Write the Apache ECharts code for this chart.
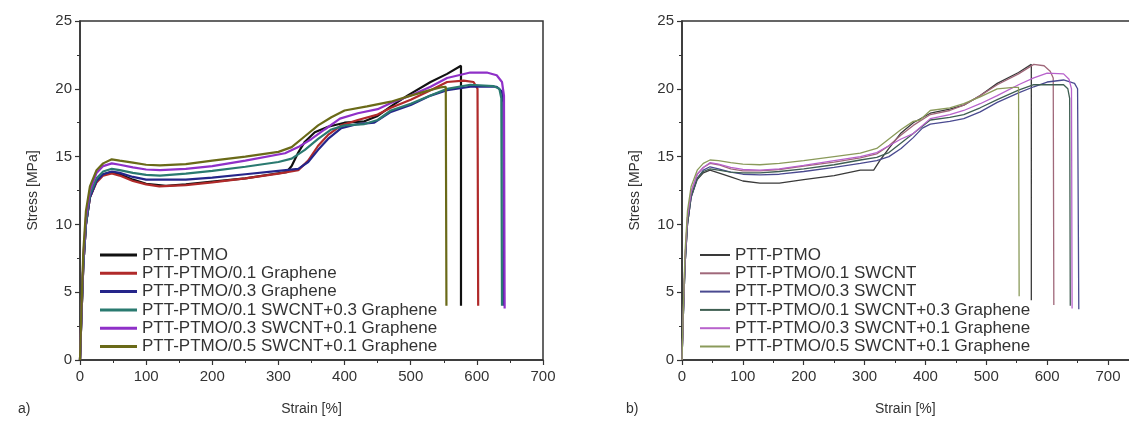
<!DOCTYPE html>
<html><head><meta charset="utf-8">
<script src="https://cdn.jsdelivr.net/npm/echarts@6/dist/echarts.min.js"></script>
<style>
html,body{margin:0;padding:0;background:#fff;width:1129px;height:423px;overflow:hidden;position:relative;}
#ca{position:absolute;left:0;top:0;width:600px;height:423px;}
#cb{position:absolute;left:600px;top:0;width:560px;height:423px;}
</style></head>
<body>
<div id="ca"></div><div id="cb"></div>
<script>
// ---- data: chart a) ----
const namesA = ['PTT-PTMO','PTT-PTMO/0.1 Graphene','PTT-PTMO/0.3 Graphene','PTT-PTMO/0.1 SWCNT+0.3 Graphene','PTT-PTMO/0.3 SWCNT+0.1 Graphene','PTT-PTMO/0.5 SWCNT+0.1 Graphene'];
const a0 = [[0,0],[2,3],[5,7],[9,10],[15,12],[25,13.2],[35,13.7],[48,13.85],[60,13.7],[80,13.3],[100,13.0],[130,12.85],[160,12.95],[200,13.15],[250,13.4],[290,13.7],[312,13.85],[320,14.3],[330,15.3],[340,16.1],[355,16.8],[375,17.2],[400,17.5],[430,17.6],[450,18.0],[470,18.7],[495,19.5],[530,20.5],[555,21.1],[576,21.7],[576,4.0]];
const a1 = [[0,0],[2,3],[5,7],[9,10],[15,12],[25,13.1],[35,13.6],[48,13.75],[60,13.6],[80,13.2],[100,12.95],[120,12.8],[160,12.9],[200,13.1],[250,13.4],[300,13.75],[330,14.0],[345,14.7],[360,15.8],[375,16.6],[395,17.3],[420,17.7],[450,18.1],[470,18.6],[500,19.2],[530,19.9],[555,20.5],[580,20.6],[595,20.5],[601,20.0],[602,4.0]];
const a2 = [[0,0],[2,3],[5,7],[9,10],[15,12],[25,13.2],[35,13.7],[48,13.9],[60,13.8],[80,13.5],[100,13.3],[121,13.3],[160,13.3],[200,13.45],[250,13.7],[300,13.95],[330,14.1],[345,14.6],[360,15.5],[375,16.3],[395,17.1],[420,17.4],[445,17.5],[470,18.3],[500,18.8],[530,19.5],[555,19.9],[590,20.15],[630,20.15],[638,19.8],[640,19.0],[641,4.0]];
const a3 = [[0,0],[2,3],[5,7],[9,10],[15,12.2],[25,13.4],[35,13.9],[48,14.1],[60,14.0],[80,13.8],[100,13.65],[121,13.6],[160,13.75],[200,13.95],[250,14.25],[300,14.6],[320,14.85],[340,15.5],[360,16.3],[380,17.0],[400,17.3],[430,17.4],[450,17.7],[470,18.4],[500,18.9],[530,19.5],[555,20.0],[590,20.3],[625,20.2],[634,20.0],[637,19.3],[638,4.0]];
const a4 = [[0,0],[2,3.2],[5,7.5],[9,10.5],[15,12.5],[25,13.8],[35,14.3],[48,14.5],[60,14.4],[80,14.2],[100,14.05],[121,14.0],[160,14.1],[200,14.3],[250,14.7],[310,15.25],[330,15.7],[350,16.3],[370,17.0],[393,17.8],[420,18.2],[450,18.5],[470,18.95],[500,19.5],[530,20.15],[555,20.8],[590,21.2],[615,21.2],[630,21.0],[638,20.5],[641,19.5],[642,3.8]];
const a5 = [[0,0],[2,3.5],[5,8],[9,11],[15,12.8],[25,14.0],[35,14.5],[48,14.8],[60,14.7],[80,14.55],[100,14.4],[121,14.35],[160,14.45],[200,14.7],[250,15.0],[300,15.35],[320,15.7],[340,16.5],[360,17.3],[380,17.9],[400,18.4],[434,18.7],[470,19.05],[500,19.5],[529,19.9],[545,20.1],[553,20.15],[554,4.0]];

// ---- data: chart b) ----
const namesB = ['PTT-PTMO','PTT-PTMO/0.1 SWCNT','PTT-PTMO/0.3 SWCNT','PTT-PTMO/0.1 SWCNT+0.3 Graphene','PTT-PTMO/0.3 SWCNT+0.1 Graphene','PTT-PTMO/0.5 SWCNT+0.1 Graphene'];
const b0 = [[0,0],[2,3],[5,7],[9,10],[15,12],[25,13.3],[35,13.8],[46,14.0],[60,13.8],[80,13.5],[100,13.2],[128,13.05],[160,13.05],[200,13.3],[250,13.6],[293,14.0],[315,14.0],[325,14.7],[340,15.6],[359,16.7],[380,17.5],[408,18.2],[440,18.5],[463,18.8],[490,19.5],[518,20.4],[553,21.2],[574,21.8],[574,4.4]];
const b1 = [[0,0],[2,3.2],[5,7.5],[9,10.5],[15,12.4],[25,13.7],[35,14.2],[46,14.5],[60,14.4],[80,14.1],[100,13.95],[128,13.95],[160,14.05],[200,14.3],[250,14.6],[293,14.9],[320,15.2],[340,15.8],[360,16.6],[380,17.3],[408,18.1],[440,18.4],[463,18.8],[490,19.5],[518,20.3],[553,21.1],[578,21.8],[595,21.7],[605,21.3],[610,20.8],[611,4.05]];
const b2 = [[0,0],[2,3],[5,7],[9,10],[15,12],[25,13.4],[35,14.0],[46,14.25],[60,14.1],[80,13.85],[100,13.7],[128,13.65],[160,13.7],[200,13.9],[250,14.2],[293,14.5],[320,14.7],[340,15.0],[360,15.6],[380,16.4],[395,17.1],[408,17.4],[440,17.6],[463,17.8],[490,18.3],[518,19.0],[553,19.7],[578,20.15],[600,20.5],[627,20.65],[645,20.4],[650,20.0],[652,3.75]];
const b3 = [[0,0],[2,3],[5,7],[9,10],[15,12.1],[25,13.4],[35,13.9],[46,14.1],[60,14.0],[80,13.85],[100,13.8],[128,13.8],[160,13.9],[200,14.1],[250,14.4],[293,14.75],[320,14.95],[340,15.3],[360,16.0],[380,16.7],[408,17.7],[440,17.9],[463,18.1],[490,18.6],[518,19.2],[553,19.9],[578,20.3],[600,20.3],[627,20.3],[634,20.0],[637,19.3],[638,4.0]];
const b4 = [[0,0],[2,3.2],[5,7.5],[9,10.5],[15,12.4],[25,13.7],[35,14.2],[46,14.55],[60,14.45],[80,14.2],[100,14.05],[128,14.0],[160,14.1],[200,14.35],[250,14.7],[293,15.0],[320,15.3],[340,15.8],[360,16.3],[380,16.7],[408,17.8],[440,18.1],[463,18.4],[490,18.9],[518,19.5],[553,20.3],[578,20.8],[600,21.15],[627,21.1],[636,20.7],[640,20.0],[641,3.8]];
const b5 = [[0,0],[2,3.5],[5,8],[9,11],[15,12.8],[25,14.0],[35,14.5],[46,14.75],[60,14.7],[80,14.55],[100,14.45],[128,14.4],[160,14.5],[200,14.7],[250,15.0],[293,15.25],[320,15.6],[340,16.3],[360,17.0],[380,17.6],[391,17.7],[408,18.4],[440,18.6],[463,18.9],[490,19.4],[518,20.0],[545,20.1],[553,20.1],[554,4.7]];

const xTicks = [0,100,200,300,400,500,600,700];
const yTicks = [0,5,10,15,20,25];

const colorsA = ['#111111','#b02a2a','#25258a','#2a7a70','#8f30c8','#6a6a18'];
const colorsB = ['#3a3a3a','#a0687a','#4a4a90','#3f5f52','#b862cc','#8a9a5a'];

const FONT = '"Liberation Sans", Arial, sans-serif';
const AX = '#333';

function build(names, datas, colors, opts) {
  return {
    animation: false,
    textStyle: {fontFamily: FONT},
    grid: {left: opts.gridLeft, top: 21, width: opts.gridWidth, height: 339,
           show: true, borderColor: AX, borderWidth: 1.5, backgroundColor: 'transparent'},
    graphic: [{type: 'text', left: opts.tagLeft, top: 402,
               style: {text: opts.tag, font: '14px ' + FONT, fill: '#333'}}],
    legend: {
      orient: 'vertical', left: opts.legLeft, top: 246,
      data: names, icon: 'rect', itemWidth: opts.legW, itemHeight: opts.legH,
      itemGap: 0.3, padding: 0,
      textStyle: {fontSize: 17, lineHeight: 18, color: '#333', fontFamily: FONT, padding: [0,0,0,0]}
    },
    xAxis: {
      type: 'value', min: 0, max: opts.xMax, interval: 100,
      name: 'Strain [%]', nameLocation: 'middle', nameGap: 42,
      nameTextStyle: {fontSize: 14, color: '#333', fontFamily: FONT, padding: opts.namePad},
      axisLine: {show: true, onZero: false, lineStyle: {color: AX, width: 1.5}},
      axisTick: {show: true, length: 5, lineStyle: {color: AX, width: 1.2}},
      minorTick: {show: true, splitNumber: 2, length: 3, lineStyle: {color: AX, width: 1}},
      splitLine: {show: false},
      axisLabel: {fontSize: 15, color: '#333', margin: 9, fontFamily: FONT,
                  formatter: v => xTicks.indexOf(v) >= 0 ? String(v) : ''}
    },
    yAxis: {
      type: 'value', min: 0, max: 25, interval: 5,
      name: 'Stress [MPa]', nameLocation: 'middle', nameGap: 40,
      nameTextStyle: {fontSize: 14, color: '#333', fontFamily: FONT},
      axisLine: {show: true, onZero: false, lineStyle: {color: AX, width: 1.5}},
      axisTick: {show: true, length: 5, lineStyle: {color: AX, width: 1.2}},
      minorTick: {show: true, splitNumber: 2, length: 3, lineStyle: {color: AX, width: 1}},
      splitLine: {show: false},
      axisLabel: {fontSize: 15, color: '#333', margin: 8, fontFamily: FONT,
                  formatter: v => yTicks.indexOf(v) >= 0 ? String(v) : ''}
    },
    series: names.map((n, i) => ({
      name: n, type: 'line', data: datas[i], showSymbol: false, symbol: 'none',
      color: colors[i], lineStyle: {width: opts.lw, color: colors[i]},
      z: 2 + i
    }))
  };
}

const chA = echarts.init(document.getElementById('ca'), null, {renderer: 'canvas'});
chA.setOption(build(namesA, [a0,a1,a2,a3,a4,a5], colorsA,
  {gridLeft: 80, gridWidth: 463, xMax: 700, legLeft: 100, legW: 37, legH: 3, lw: 2.2,
   tag: 'a)', tagLeft: 18, namePad: [0,0,0,0]}));

const chB = echarts.init(document.getElementById('cb'), null, {renderer: 'canvas'});
chB.setOption(build(namesB, [b0,b1,b2,b3,b4,b5], colorsB,
  {gridLeft: 82, gridWidth: 468.6, xMax: 770, legLeft: 100, legW: 30, legH: 2, lw: 1.3,
   tag: 'b)', tagLeft: 26, namePad: [0,22,0,0]}));
</script>
</body></html>
